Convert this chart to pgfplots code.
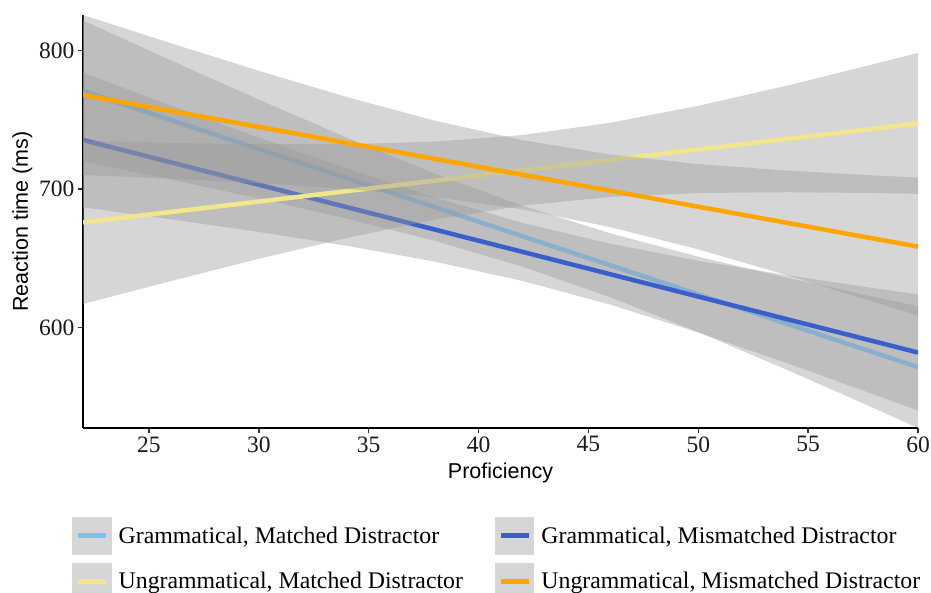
\documentclass[border=0pt]{standalone}
\usepackage{pgfplots}
\pgfplotsset{compat=1.18}
\usepackage{fontspec}
\setmainfont{Liberation Serif}
\setsansfont{Liberation Sans}
\definecolor{cLB}{HTML}{7EC0EE}
\definecolor{cB}{HTML}{3A5FCD}
\definecolor{cY}{HTML}{F0E68C}
\definecolor{cO}{HTML}{FFA500}
\definecolor{bandgrey}{HTML}{999999}
\definecolor{keygrey}{HTML}{D6D6D6}
\begin{document}
\begin{tikzpicture}
\useasboundingbox (0,0) rectangle (931pt,593pt);
\begin{axis}[
  scale only axis, width=835pt, height=413pt,
  at={(83pt,165pt)}, anchor=south west,
  xmin=22, xmax=60, ymin=527.5, ymax=825.8,
  axis x line*=bottom, axis y line*=left,
  axis line style={line width=1.5pt, black, -},
  xtick={25,30,...,60}, ytick={600,700,800},
  tick align=outside, major tick length=5pt,
  tick style={line width=1.5pt, black!80},
  /pgf/number format/assume math mode=true,
  tick label style={font=\fontsize{23.5}{26}\selectfont, text=black!90},
  label style={font=\sffamily\fontsize{21.5}{24}\selectfont, text=black},
  xlabel={Proficiency}, ylabel={Reaction time (ms)},
  xlabel style={yshift=-4pt},
  legend columns=2,
  legend cell align=left,
  legend style={draw=none, fill=none, inner sep=0pt,
    at={(-0.0132,-0.2155)}, anchor=north west,
    font=\fontsize{23.8}{26}\selectfont,
    row sep=8pt,
    /tikz/every odd column/.append style={column sep=5pt},
    /tikz/every even column/.append style={column sep=30pt}},
  legend image code/.code={
    \fill[keygrey] (0pt,-16.5pt) rectangle (35pt,16.5pt);
    \draw[#1, line width=5pt] (4pt,0pt) -- (32pt,0pt);
  },
]
% Grammatical, Matched Distractor
\addplot[forget plot, draw=none, fill=bandgrey, fill opacity=0.4] coordinates {
 (22,821.9) (26,793.0) (30,764.7) (34,737.3) (38,711.3) (42,688.0) (46,668.1) (50,651.2) (54,636.2) (58,622.2) (60,615.5)
 (60,527.5) (58,541.8) (54,569.8) (50,596.8) (46,621.9) (42,644.0) (38,662.7) (34,678.7) (30,693.3) (26,707.0) (22,720.1)};
\addplot[cLB, line width=4.5pt, no marks] coordinates {(22,771) (60,571.5)};
\addlegendentry{Grammatical, Matched Distractor}
% Grammatical, Mismatched Distractor
\addplot[forget plot, draw=none, fill=bandgrey, fill opacity=0.4] coordinates {
 (22,784.1) (26,760.4) (30,737.3) (34,714.9) (38,694.1) (42,675.7) (46,660.6) (50,648.3) (54,638.0) (58,628.5) (60,624.0)
 (60,540.0) (58,551.7) (54,574.6) (50,596.5) (46,616.6) (42,633.7) (38,647.7) (34,659.1) (30,669.1) (26,678.2) (22,686.9)};
\addplot[cB, line width=4.5pt, no marks] coordinates {(22,735.5) (60,582.0)};
\addlegendentry{Grammatical, Mismatched Distractor}
% Ungrammatical, Matched Distractor
\addplot[forget plot, draw=none, fill=bandgrey, fill opacity=0.4] coordinates {
 (22,734.9) (26,733.4) (30,732.5) (34,732.5) (38,734.3) (42,739.1) (46,748.0) (50,760.2) (54,774.6) (58,790.4) (60,798.4)
 (60,696.6) (58,697.2) (54,697.8) (50,697.2) (46,694.4) (42,688.1) (38,677.9) (34,664.7) (30,649.7) (26,633.6) (22,617.1)};
\addplot[cY, line width=4.5pt, no marks] coordinates {(22,676) (60,747.5)};
\addlegendentry{Ungrammatical, Matched Distractor}
% Ungrammatical, Mismatched Distractor
\addplot[forget plot, draw=none, fill=bandgrey, fill opacity=0.4] coordinates {
 (22,825.8) (26,805.4) (30,785.5) (34,766.6) (38,749.5) (42,735.4) (46,725.0) (50,718.1) (54,713.5) (58,709.9) (60,708.4)
 (60,608.6) (58,618.5) (54,638.1) (50,656.5) (46,672.6) (42,685.4) (38,694.3) (34,700.2) (30,704.3) (26,707.6) (22,710.2)};
\addplot[cO, line width=4.5pt, no marks] coordinates {(22,768) (60,658.5)};
\addlegendentry{Ungrammatical, Mismatched Distractor}
\end{axis}
\end{tikzpicture}
\end{document}
